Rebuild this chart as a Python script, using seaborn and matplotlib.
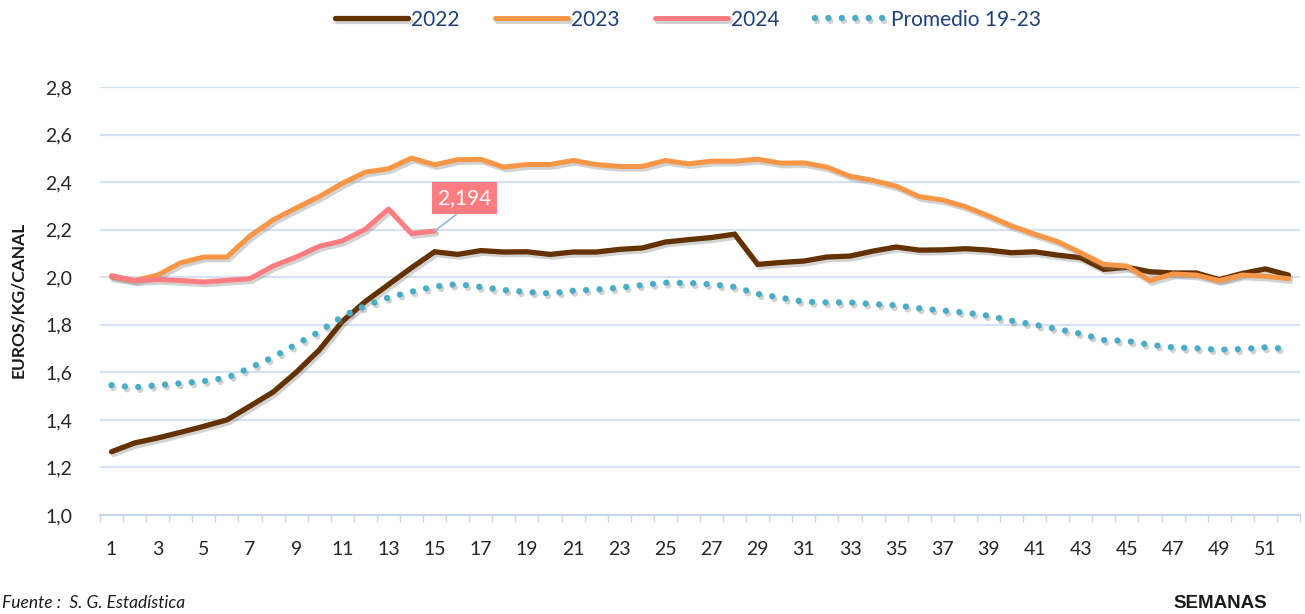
import numpy as np
import pandas as pd
import matplotlib
matplotlib.use("Agg")
import matplotlib.pyplot as plt
import matplotlib.patheffects as pe
import seaborn as sns

weeks = list(range(1, 53))

y2022 = [1.266, 1.303, 1.324, 1.348, 1.373, 1.400, 1.458, 1.517, 1.600, 1.694,
         1.814, 1.898, 1.969, 2.040, 2.107, 2.096, 2.112, 2.106, 2.107, 2.096,
         2.106, 2.106, 2.117, 2.123, 2.148, 2.158, 2.167, 2.181, 2.054, 2.062,
         2.068, 2.085, 2.089, 2.110, 2.127, 2.114, 2.115, 2.120, 2.114, 2.103,
         2.107, 2.093, 2.082, 2.033, 2.042, 2.023, 2.018, 2.018, 1.990, 2.016,
         2.035, 2.009]

y2023 = [2.000, 1.986, 2.009, 2.061, 2.085, 2.085, 2.174, 2.241, 2.291, 2.339,
         2.395, 2.442, 2.456, 2.501, 2.473, 2.494, 2.496, 2.463, 2.474, 2.474,
         2.491, 2.474, 2.466, 2.466, 2.491, 2.477, 2.488, 2.488, 2.496, 2.480,
         2.481, 2.463, 2.425, 2.407, 2.383, 2.339, 2.325, 2.297, 2.258, 2.216,
         2.181, 2.150, 2.103, 2.054, 2.047, 1.986, 2.014, 2.009, 1.986, 2.009,
         2.004, 1.994]

weeks2024 = list(range(1, 16))
y2024 = [2.007, 1.986, 1.990, 1.986, 1.980, 1.987, 1.994, 2.047, 2.085, 2.130,
         2.153, 2.202, 2.287, 2.184, 2.194]

avg1923 = [1.546, 1.537, 1.546, 1.554, 1.563, 1.577, 1.619, 1.664, 1.718, 1.771,
           1.835, 1.880, 1.915, 1.939, 1.961, 1.971, 1.959, 1.946, 1.938, 1.932,
           1.943, 1.948, 1.956, 1.967, 1.977, 1.976, 1.970, 1.959, 1.930, 1.914,
           1.897, 1.894, 1.894, 1.887, 1.882, 1.869, 1.860, 1.851, 1.838, 1.817,
           1.800, 1.782, 1.762, 1.736, 1.732, 1.716, 1.705, 1.701, 1.695, 1.698,
           1.705, 1.698]

yticks = [1.0, 1.2, 1.4, 1.6, 1.8, 2.0, 2.2, 2.4, 2.6, 2.8]
xticks = list(range(1, 52, 2))

sns.set_theme(style="white")
plt.rcParams['font.family'] = ['Lato', 'DejaVu Sans']

fig = plt.figure(figsize=(13.05, 6.14), dpi=100)
ax = fig.add_axes([100/1305, 1-515/614, 1200/1305, (515-87)/614])

shadow = [pe.SimpleLineShadow(offset=(1.5, -2), shadow_color='#808080', alpha=0.35), pe.Normal()]

c22, c23, c24, cav = '#643200', '#F79646', '#FF7C80', '#4BACC6'

df = pd.DataFrame({'semana': weeks, '2022': y2022, '2023': y2023, 'avg': avg1923})
df24 = pd.DataFrame({'semana': weeks2024, '2024': y2024})

sns.lineplot(data=df, x='semana', y='2022', ax=ax, color=c22, lw=3.8,
             label='2022', path_effects=shadow, solid_joinstyle='miter')
sns.lineplot(data=df, x='semana', y='2023', ax=ax, color=c23, lw=3.6,
             label='2023', path_effects=shadow)
sns.lineplot(data=df24, x='semana', y='2024', ax=ax, color=c24, lw=3.6,
             label='2024', path_effects=shadow)
sns.lineplot(data=df, x='semana', y='avg', ax=ax, color=cav, lw=4.6,
             label='Promedio 19-23', path_effects=shadow,
             linestyle=(0, (0.001, 2.1)), dash_capstyle='round')

ax.set_xlim(0.5, 52.5)
ax.set_ylim(1.0, 2.8)
ax.set_yticks(yticks)
ax.set_yticklabels([f"{v:.1f}".replace('.', ',') for v in yticks])
ax.set_xticks(xticks)
ax.set_xticklabels([str(w) for w in xticks])
ax.set_xticks(np.arange(0.5, 53, 1.0), minor=True)
ax.tick_params(axis='x', which='major', length=0, pad=19, labelsize=14, labelcolor='#262626')
ax.tick_params(axis='x', which='minor', length=5, width=1, color='#C9D7EC', bottom=True)
ax.tick_params(axis='y', length=0, pad=20, labelsize=14, labelcolor='#262626')
ax.grid(axis='y', color='#D6E1F2', lw=1.6)
ax.set_axisbelow(True)
for s in ['top', 'right', 'left']:
    ax.spines[s].set_visible(False)
ax.spines['bottom'].set_color('#C9D7EC')
ax.spines['bottom'].set_linewidth(1.6)
ax.set_xlabel('')
ax.set_ylabel('')

ax.annotate('2,194', xy=(15, 2.194), xytext=(16.3, 2.333),
            ha='center', va='center', color='white', fontsize=15,
            bbox=dict(boxstyle='square,pad=0.3', fc=c24, ec='none'),
            arrowprops=dict(arrowstyle='-', color='#8DB4E2', lw=1.2,
                            relpos=(0.5, 0.0), shrinkA=0, shrinkB=0))

leg = ax.legend(loc='upper center', bbox_to_anchor=(0.5 - 12/1200, 1 + 96/428), ncol=4,
                frameon=False, fontsize=15, handlelength=3.5, columnspacing=1.7,
                handletextpad=0.15)
for t in leg.get_texts():
    t.set_color('#1F3F77')

fig.text(18/1305, 1-300/614, 'EUROS/KG/CANAL', rotation=90, ha='center', va='center',
         fontsize=12.5, fontweight='bold', color='#1a1a1a')
fig.text(1220/1305, 1-603/614, 'SEMANAS', ha='center', va='center',
         fontsize=13.5, fontweight='bold', color='#1a1a1a', family=['Liberation Sans'])
fig.text(2/1305, 3/614, 'Fuente :  S. G. Estadística', ha='left', va='bottom',
         fontsize=12.5, style='italic', color='#1a1a1a')

fig.savefig('out.png', dpi=100)
